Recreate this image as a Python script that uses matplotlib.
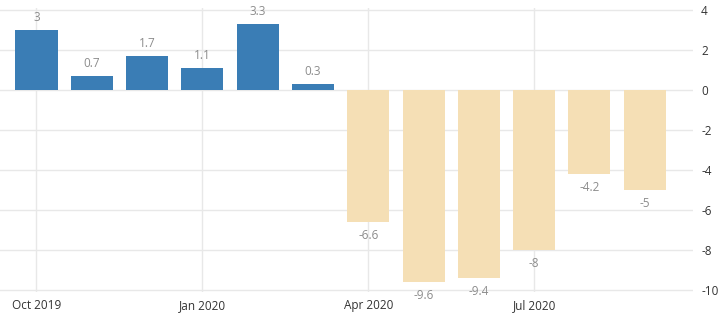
import matplotlib.pyplot as plt

# monthly values, Oct 2019 - Sep 2020
months = ["Oct 2019", "Nov 2019", "Dec 2019", "Jan 2020", "Feb 2020", "Mar 2020",
          "Apr 2020", "May 2020", "Jun 2020", "Jul 2020", "Aug 2020", "Sep 2020"]
values = [3, 0.7, 1.7, 1.1, 3.3, 0.3, -6.6, -9.6, -9.4, -8, -4.2, -5]
value_labels = ["3", "0.7", "1.7", "1.1", "3.3", "0.3", "-6.6", "-9.6", "-9.4", "-8", "-4.2", "-5"]
tick_months = ["Oct 2019", "Jan 2020", "Apr 2020", "Jul 2020"]
y_ticks = [4, 2, 0, -2, -4, -6, -8, -10]

plt.rcParams["font.family"] = ["Open Sans", "DejaVu Sans"]

fig = plt.figure(figsize=(7.27, 3.16), dpi=100)
ax = fig.add_axes([0.0, 0.075, 0.953, 0.9])

x = list(range(len(months)))
colors = ["#3a7db5" if v >= 0 else "#f5dfb5" for v in values]
bars = ax.bar(x, values, width=0.76, color=colors, zorder=2)

for xi, v, lab in zip(x, values, value_labels):
    if v >= 0:
        ax.annotate(lab, (xi, v), xytext=(0, 4), textcoords="offset points",
                    ha="center", va="bottom", fontsize=8.5, color="#8c8c8c")
    else:
        ax.annotate(lab, (xi, v), xytext=(0, -5), textcoords="offset points",
                    ha="center", va="top", fontsize=8.5, color="#8c8c8c")

ax.set_xlim(-0.66, 11.87)
ax.set_ylim(-10.1, 4.1)
ax.set_xticks([months.index(m) for m in tick_months])
ax.set_xticklabels(tick_months)
ax.set_yticks(y_ticks)
ax.set_yticklabels([str(t) for t in y_ticks])
ax.yaxis.tick_right()

ax.grid(True, color="#e8e8e8", linewidth=1, zorder=0)
ax.set_axisbelow(True)
for s in ax.spines.values():
    s.set_visible(False)
ax.tick_params(axis="both", length=0, labelsize=8.5, labelcolor="#333333")
ax.tick_params(axis="x", pad=5)
ax.tick_params(axis="y", pad=6)

fig.savefig("out.png", dpi=100)
